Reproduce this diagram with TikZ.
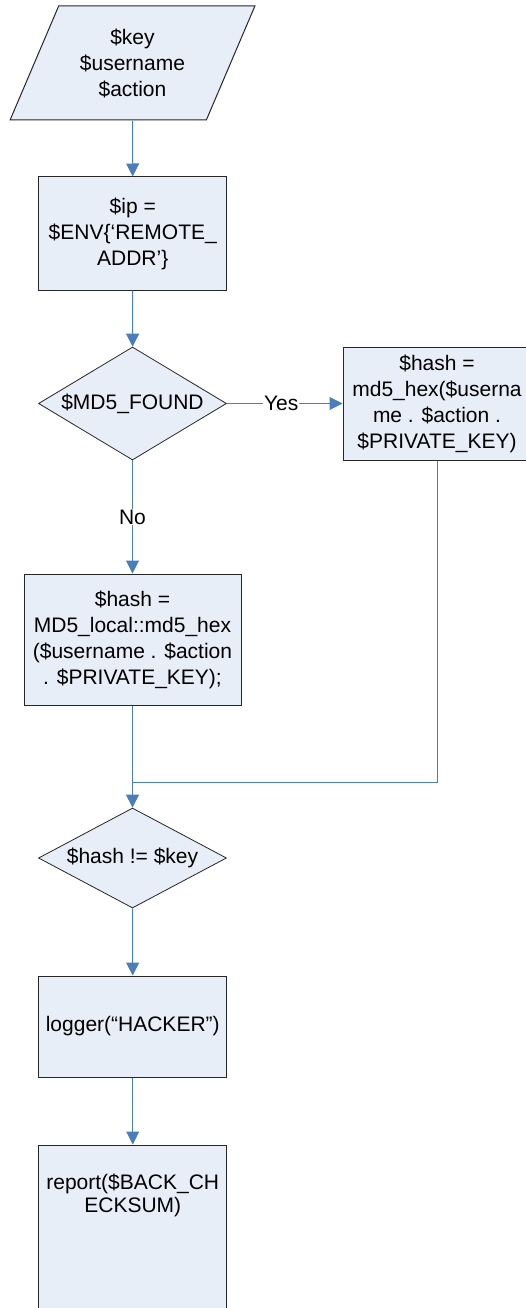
\documentclass[tikz,border=0pt]{standalone}
\usepackage{fontspec}
\setmainfont{Liberation Sans}
\usetikzlibrary{positioning,shapes.geometric,arrows.meta}
\definecolor{boxfill}{RGB}{232,238,247}
\definecolor{linkblue}{RGB}{74,126,187}

\begin{document}
\begin{tikzpicture}[x=1pt,y=-1pt]
\tikzset{base/.style={draw=black!85,line width=1pt,fill=boxfill,align=center,inner sep=0pt,
           font=\fontsize{21}{26}\selectfont},
         io/.style={base,trapezium,trapezium left angle=63.4,trapezium right angle=116.6,
           trapezium stretches=true,minimum width=245pt,minimum height=114pt},
         proc/.style={base,rectangle,minimum width=188pt,minimum height=113pt},
         decide/.style={base,diamond,shape aspect=1.7,line width=0.8pt,minimum width=188pt},
         line/.style={draw=linkblue,line width=1pt},
         link/.style={line,-{Triangle[width=13pt,length=13pt]}},
         tag/.style={fill=white,inner sep=1pt,font=\fontsize{21}{26}\selectfont}};
   \useasboundingbox (0,0) rectangle (526,1308);
   \clip (0,0) rectangle (526,1308);

   \node[io] at (132.5,63) (in) {\$key\\\$username\\\$action};
   \node[proc] at (132.75,233.5) (ip) {\$ip =\\\$ENV\{‘REMOTE\_\\ADDR’\}};
   \node[decide,minimum height=113pt] at (132.5,403.5) (found) {\$MD5\_FOUND};
   \node[proc] at (437,403.5) (hashA) {\$hash =\\md5\_hex(\$userna\\me . \$action .\\\$PRIVATE\_KEY)};
   \node[proc,minimum width=217pt,minimum height=131pt] at (132.5,639.5) (hashB)
      {\$hash =\\MD5\_local::md5\_hex\\(\$username . \$action\\. \$PRIVATE\_KEY);};
   \node[decide,minimum height=100pt] at (132.5,858) (check) {\$hash != \$key};
   \node[proc,minimum height=101pt] at (132.75,1026.5) (logger) {logger(“HACKER”)};
   \node[proc,minimum height=176pt] at (132.75,1233) (report) {};
   \node[font=\fontsize{21}{23}\selectfont,align=center] at (132.75,1195) (reporttxt) {report(\$BACK\_CH\\ECKSUM)};
   \coordinate (join) at (132.5,782);

   \draw[link] (in) -- (ip);
   \draw[link] (ip) -- (found);
   \draw[link] (found) -- (hashA) node[tag,pos=0.47] {Yes};
   \draw[link] (found) -- (hashB) node[tag,midway] {No};
   \draw[link] (hashB) -- (check);
   \draw[line] (hashA) |- (join);
   \draw[link] (check) -- (logger);
   \draw[link] (logger) -- (report);
 \end{tikzpicture}
\end{document}
